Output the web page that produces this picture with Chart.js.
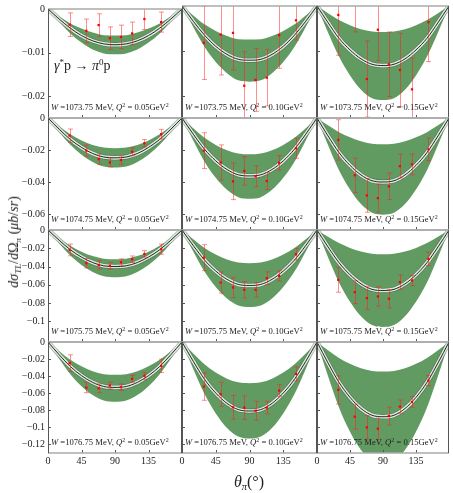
<!DOCTYPE html>
<html><head><meta charset="utf-8">
<script src="https://cdn.jsdelivr.net/npm/chart.js@4/dist/chart.umd.min.js"></script>
<style>
html,body{margin:0;padding:0;background:#fff;}
#wrap{position:relative;width:453px;height:493px;overflow:hidden;font-family:"Liberation Serif",serif;color:#222;}
#wrap canvas{position:absolute;left:0;top:0;}
.lab{position:absolute;white-space:nowrap;font-size:8.6px;line-height:11px;color:#222;}
.lab sup{font-size:6px;position:relative;top:-3px;vertical-align:baseline;}
#react{position:absolute;left:54px;top:56px;font-size:14px;line-height:20px;white-space:nowrap;}
#react sup{font-size:9px;position:relative;top:-5px;vertical-align:baseline;}
#ytitle{position:absolute;left:14px;top:242px;transform:translate(-50%,-50%) rotate(-90deg);font-size:14px;white-space:nowrap;}
#xtitle{position:absolute;left:249px;top:482px;transform:translate(-50%,-50%);font-size:16px;white-space:nowrap;}
sub{font-size:0.65em;vertical-align:baseline;position:relative;top:0.3em;}
</style></head><body><div id="wrap"></div>
<script>
// ---------- data ----------
const wLabels = ['1073.75', '1074.75', '1075.75', '1076.75'];
const q2Labels = ['0.05', '0.10', '0.15'];
const thetaGrid = [0, 15, 30, 45, 60, 75, 90, 105, 120, 135, 150, 165, 180];
const thetaData = [29, 51.5, 68, 83, 98, 113, 129.5, 152];
const xTickValues = [0, 45, 90, 135];
const yMins = [-0.025, -0.07, -0.1225, -0.13];
const yTicksRow1 = [0, -0.01, -0.02];
const yTicksRow2 = [0, -0.02, -0.04, -0.06];
const yTicksRow3 = [0, -0.02, -0.04, -0.06, -0.08, -0.1];
const yTicksRow4 = [0, -0.02, -0.04, -0.06, -0.08, -0.1, -0.12];

// model curves (one row per W, one inner array per Q^2)
const center_W1073 = [
 [0,-0.0023,-0.0044,-0.0061,-0.0073,-0.0080,-0.0082,-0.0080,-0.0073,-0.0061,-0.0044,-0.0023,0],
 [0,-0.0034,-0.0065,-0.0090,-0.0108,-0.0119,-0.0121,-0.0119,-0.0108,-0.0090,-0.0065,-0.0034,0],
 [0,-0.0037,-0.0072,-0.0098,-0.0118,-0.0130,-0.0133,-0.0130,-0.0118,-0.0098,-0.0072,-0.0037,0]];
const upper_W1073 = [
 [0,-0.0017,-0.0033,-0.0045,-0.0054,-0.0060,-0.0061,-0.0060,-0.0054,-0.0045,-0.0033,-0.0017,0],
 [0,-0.0021,-0.0041,-0.0056,-0.0067,-0.0074,-0.0075,-0.0074,-0.0067,-0.0056,-0.0041,-0.0021,0],
 [0,-0.0016,-0.0031,-0.0043,-0.0052,-0.0057,-0.0058,-0.0057,-0.0052,-0.0043,-0.0031,-0.0016,0]];
const lower_W1073 = [
 [0,-0.0029,-0.0056,-0.0077,-0.0093,-0.0102,-0.0104,-0.0102,-0.0093,-0.0077,-0.0056,-0.0029,0],
 [0,-0.0047,-0.0091,-0.0125,-0.0150,-0.0166,-0.0169,-0.0166,-0.0150,-0.0125,-0.0091,-0.0047,0],
 [0,-0.0059,-0.0113,-0.0155,-0.0187,-0.0206,-0.0210,-0.0206,-0.0187,-0.0155,-0.0113,-0.0059,0]];

const center_W1074 = [
 [0,-0.0070,-0.0134,-0.0184,-0.0222,-0.0244,-0.0249,-0.0244,-0.0222,-0.0184,-0.0134,-0.0070,0],
 [0,-0.0101,-0.0195,-0.0268,-0.0322,-0.0355,-0.0362,-0.0355,-0.0322,-0.0268,-0.0195,-0.0101,0],
 [0,-0.0112,-0.0216,-0.0296,-0.0356,-0.0392,-0.0400,-0.0392,-0.0356,-0.0296,-0.0216,-0.0112,0]];
const upper_W1074 = [
 [0,-0.0053,-0.0102,-0.0140,-0.0168,-0.0185,-0.0189,-0.0185,-0.0168,-0.0140,-0.0102,-0.0053,0],
 [0,-0.0064,-0.0123,-0.0168,-0.0202,-0.0222,-0.0227,-0.0222,-0.0202,-0.0168,-0.0123,-0.0064,0],
 [0,-0.0046,-0.0089,-0.0121,-0.0146,-0.0161,-0.0164,-0.0161,-0.0146,-0.0121,-0.0089,-0.0046,0]];
const lower_W1074 = [
 [0,-0.0087,-0.0167,-0.0229,-0.0275,-0.0303,-0.0309,-0.0303,-0.0275,-0.0229,-0.0167,-0.0087,0],
 [0,-0.0141,-0.0273,-0.0374,-0.0449,-0.0495,-0.0505,-0.0495,-0.0449,-0.0374,-0.0273,-0.0141,0],
 [0,-0.0169,-0.0326,-0.0447,-0.0538,-0.0592,-0.0604,-0.0592,-0.0538,-0.0447,-0.0326,-0.0169,0]];

const center_W1075 = [
 [0,-0.0112,-0.0216,-0.0296,-0.0356,-0.0392,-0.0400,-0.0392,-0.0356,-0.0296,-0.0216,-0.0112,0],
 [0,-0.0170,-0.0328,-0.0449,-0.0540,-0.0595,-0.0607,-0.0595,-0.0540,-0.0449,-0.0328,-0.0170,0],
 [0,-0.0185,-0.0357,-0.0490,-0.0589,-0.0649,-0.0662,-0.0649,-0.0589,-0.0490,-0.0357,-0.0185,0]];
const upper_W1075 = [
 [0,-0.0090,-0.0173,-0.0237,-0.0285,-0.0314,-0.0320,-0.0314,-0.0285,-0.0237,-0.0173,-0.0090,0],
 [0,-0.0102,-0.0196,-0.0269,-0.0323,-0.0356,-0.0363,-0.0356,-0.0323,-0.0269,-0.0196,-0.0102,0],
 [0,-0.0074,-0.0143,-0.0196,-0.0236,-0.0260,-0.0265,-0.0260,-0.0236,-0.0196,-0.0143,-0.0074,0]];
const lower_W1075 = [
 [0,-0.0144,-0.0279,-0.0382,-0.0459,-0.0506,-0.0516,-0.0506,-0.0459,-0.0382,-0.0279,-0.0144,0],
 [0,-0.0236,-0.0455,-0.0624,-0.0750,-0.0826,-0.0843,-0.0826,-0.0750,-0.0624,-0.0455,-0.0236,0],
 [0,-0.0297,-0.0573,-0.0785,-0.0944,-0.1040,-0.1061,-0.1040,-0.0944,-0.0785,-0.0573,-0.0297,0]];

const center_W1076 = [
 [0,-0.0149,-0.0287,-0.0394,-0.0473,-0.0521,-0.0532,-0.0521,-0.0473,-0.0394,-0.0287,-0.0149,0],
 [0,-0.0226,-0.0436,-0.0598,-0.0719,-0.0792,-0.0808,-0.0792,-0.0719,-0.0598,-0.0436,-0.0226,0],
 [0,-0.0245,-0.0473,-0.0648,-0.0779,-0.0858,-0.0875,-0.0858,-0.0779,-0.0648,-0.0473,-0.0245,0]];
const upper_W1076 = [
 [0,-0.0108,-0.0208,-0.0285,-0.0343,-0.0377,-0.0385,-0.0377,-0.0343,-0.0285,-0.0208,-0.0108,0],
 [0,-0.0135,-0.0260,-0.0357,-0.0429,-0.0472,-0.0482,-0.0472,-0.0429,-0.0357,-0.0260,-0.0135,0],
 [0,-0.0097,-0.0187,-0.0256,-0.0308,-0.0339,-0.0346,-0.0339,-0.0308,-0.0256,-0.0187,-0.0097,0]];
const lower_W1076 = [
 [0,-0.0196,-0.0377,-0.0517,-0.0622,-0.0685,-0.0699,-0.0685,-0.0622,-0.0517,-0.0377,-0.0196,0],
 [0,-0.0316,-0.0610,-0.0836,-0.1006,-0.1107,-0.1130,-0.1107,-0.1006,-0.0836,-0.0610,-0.0316,0],
 [0,-0.0398,-0.0767,-0.1051,-0.1264,-0.1392,-0.1420,-0.1392,-0.1264,-0.1051,-0.0767,-0.0398,0]];

// measured points and errors
const data_W1073 = [
 [-0.0036,-0.0050,-0.0037,-0.0067,-0.0064,-0.0056,-0.0023,-0.0030],
 [-0.0082,-0.0064,-0.0060,-0.0178,-0.0165,-0.0160,-0.0065,-0.0032],
 [-0.0020,0.0005,-0.0163,-0.0053,-0.0130,-0.0143,-0.0186,-0.0036]];
const err_W1073 = [
 [0.0027,0.0027,0.0026,0.0026,0.0027,0.0026,0.0024,0.0023],
 [0.0082,0.0090,0.0083,0.0076,0.0070,0.0063,0.0074,0.0044],
 [0.0090,0.0063,0.0085,0.0069,0.0072,0.0082,0.0070,0.0088]];
const data_W1074 = [
 [-0.0110,-0.0204,-0.0257,-0.0278,-0.0263,-0.0211,-0.0158,-0.0101],
 [-0.0204,-0.0278,-0.0396,-0.0331,-0.0364,-0.0394,-0.0280,-0.0189],
 [-0.0137,-0.0358,-0.0484,-0.0501,-0.0427,-0.0301,-0.0290,-0.0196]];
const err_W1074 = [
 [0.0041,0.0035,0.0032,0.0028,0.0026,0.0025,0.0023,0.0030],
 [0.0112,0.0110,0.0114,0.0089,0.0065,0.0053,0.0045,0.0063],
 [0.0126,0.0107,0.0105,0.0087,0.0083,0.0074,0.0065,0.0071]];
const data_W1075 = [
 [-0.0218,-0.0363,-0.0382,-0.0393,-0.0353,-0.0320,-0.0262,-0.0210],
 [-0.0302,-0.0575,-0.0629,-0.0654,-0.0654,-0.0527,-0.0502,-0.0265],
 [-0.0545,-0.0680,-0.0745,-0.0727,-0.0752,-0.0570,-0.0553,-0.0316]];
const err_W1075 = [
 [0.0064,0.0051,0.0047,0.0035,0.0038,0.0036,0.0036,0.0055],
 [0.0142,0.0115,0.0111,0.0091,0.0078,0.0069,0.0055,0.0064],
 [0.0136,0.0125,0.0124,0.0105,0.0100,0.0078,0.0055,0.0073]];
const data_W1076 = [
 [-0.0248,-0.0534,-0.0542,-0.0510,-0.0530,-0.0432,-0.0396,-0.0279],
 [-0.0522,-0.0612,-0.0765,-0.0769,-0.0805,-0.0769,-0.0569,-0.0373],
 [-0.0561,-0.0875,-0.1000,-0.1016,-0.0867,-0.0757,-0.0702,-0.0452]];
const err_W1076 = [
 [0.0098,0.0059,0.0051,0.0039,0.0039,0.0041,0.0041,0.0078],
 [0.0161,0.0143,0.0139,0.0139,0.0110,0.0073,0.0069,0.0082],
 [0.0165,0.0147,0.0137,0.0124,0.0104,0.0078,0.0063,0.0059]];

// ---------- assembly ----------
const centers = [center_W1073, center_W1074, center_W1075, center_W1076];
const uppers = [upper_W1073, upper_W1074, upper_W1075, upper_W1076];
const lowers = [lower_W1073, lower_W1074, lower_W1075, lower_W1076];
const datas = [data_W1073, data_W1074, data_W1075, data_W1076];
const errs = [err_W1073, err_W1074, err_W1075, err_W1076];
const yTickValues = [yTicksRow1, yTicksRow2, yTicksRow3, yTicksRow4];

const W = 453, H = 493;
const colLeft = [48, 182, 317], colRight = [182, 317, 452];
const rowTop = [6, 118, 230, 342], rowBottom = [118, 230, 342, 453];
const GREEN = 'rgb(98,155,98)';
const FONT = {family: "'Liberation Serif', serif", size: 10};

function xy(xs, ys) { return xs.map((x, i) => ({x: x, y: ys[i]})); }
function fmt(v) { return v === 0 ? '0' : (v < 0 ? '\u2212' : '') + String(Math.abs(v)); }

const panelPlugin = {
  id: 'panel',
  beforeDatasetDraw(chart, args) {
    if (args.index !== 5) return;
    const ds = chart.data.datasets[5];
    const xs = chart.scales.x, ys = chart.scales.y, a = chart.chartArea, ctx = chart.ctx;
    ctx.save();
    ctx.beginPath(); ctx.rect(a.left, a.top, a.right - a.left, a.bottom - a.top); ctx.clip();
    ctx.strokeStyle = 'rgba(255,30,30,0.5)'; ctx.lineWidth = 1;
    ds.data.forEach((p, i) => {
      const x = Math.round(xs.getPixelForValue(p.x)) + 0.5;
      const y1 = ys.getPixelForValue(p.y + ds.errors[i]);
      const y2 = ys.getPixelForValue(p.y - ds.errors[i]);
      ctx.beginPath();
      ctx.moveTo(x, y1); ctx.lineTo(x, y2);
      ctx.moveTo(x - 2.5, y1); ctx.lineTo(x + 2.5, y1);
      ctx.moveTo(x - 2.5, y2); ctx.lineTo(x + 2.5, y2);
      ctx.stroke();
    });
    ctx.restore();
  },
  afterDraw(chart, args, opts) {
    const a = chart.chartArea, ctx = chart.ctx, xs = chart.scales.x, ys = chart.scales.y;
    ctx.save();
    ctx.strokeStyle = '#555'; ctx.lineWidth = 1;
    ctx.beginPath();
    yTickValues[opts.row].forEach(v => {
      const y = Math.round(ys.getPixelForValue(v)) + 0.5;
      ctx.moveTo(a.left, y); ctx.lineTo(a.left + 3, y);
    });
    xTickValues.forEach(v => {
      const x = Math.round(xs.getPixelForValue(v)) + 0.5;
      ctx.moveTo(x, a.bottom); ctx.lineTo(x, a.bottom - 3);
    });
    ctx.stroke();
    ctx.strokeStyle = '#aaa'; ctx.lineWidth = 1.5;
    ctx.beginPath();
    ctx.moveTo(a.left, a.top); ctx.lineTo(a.right, a.top);
    ctx.moveTo(a.left, a.bottom); ctx.lineTo(a.right, a.bottom);
    ctx.stroke();
    ctx.strokeStyle = '#555'; ctx.lineWidth = 1;
    ctx.beginPath();
    ctx.moveTo(a.left + 0.5, a.top); ctx.lineTo(a.left + 0.5, a.bottom);
    ctx.moveTo(a.right - 0.5, a.top); ctx.lineTo(a.right - 0.5, a.bottom);
    ctx.stroke();
    ctx.restore();
  }
};

const wrap = document.getElementById('wrap');

function makePanel(r, c) {
  const cv = document.createElement('canvas');
  cv.width = W; cv.height = H;
  cv.style.width = W + 'px'; cv.style.height = H + 'px';
  wrap.appendChild(cv);
  const showY = c === 0, showX = r === 3;
  const line = {pointRadius: 0, cubicInterpolationMode: 'monotone', fill: false};
  new Chart(cv, {
    type: 'line',
    data: {datasets: [
      Object.assign({data: xy(thetaGrid, uppers[r][c]), backgroundColor: GREEN, borderColor: 'rgba(0,0,0,0)', borderWidth: 1, order: 10}, line, {fill: {target: 1}}),
      Object.assign({data: xy(thetaGrid, lowers[r][c]), borderColor: 'rgba(0,0,0,0)', borderWidth: 1, order: 9}, line),
      Object.assign({data: xy(thetaGrid, centers[r][c]), borderColor: 'rgba(70,80,70,0.45)', borderWidth: 5, order: 3}, line),
      Object.assign({data: xy(thetaGrid, centers[r][c]), borderColor: 'rgb(220,234,220)', borderWidth: 3.6, order: 2}, line),
      Object.assign({data: xy(thetaGrid, centers[r][c]), borderColor: '#111', borderWidth: 0.9, order: 1}, line),
      {type: 'scatter', data: xy(thetaData, datas[r][c]), errors: errs[r][c], pointStyle: 'rect', pointRadius: 1.6,
       backgroundColor: '#ff0000', borderWidth: 0, clip: 0, order: 0, showLine: false}
    ]},
    options: {
      responsive: false, animation: false, devicePixelRatio: 1, events: [],
      layout: {padding: {
        left: showY ? colLeft[c] - 40 : colLeft[c],
        right: W - colRight[c],
        top: rowTop[r],
        bottom: showX ? H - rowBottom[r] - 20 : H - rowBottom[r]
      }},
      plugins: {legend: {display: false}, tooltip: {enabled: false}, panel: {row: r, col: c}},
      scales: {
        x: {type: 'linear', min: 0, max: 180, display: showX,
            grid: {display: false, drawTicks: false}, border: {display: false},
            ticks: {font: FONT, color: '#222', padding: 2, maxRotation: 0, autoSkip: false, callback: v => fmt(v)},
            afterBuildTicks: s => { s.ticks = xTickValues.map(v => ({value: v})); },
            afterFit: s => { if (showX) s.height = 20; }},
        y: {type: 'linear', min: yMins[r], max: 0, display: showY,
            grid: {display: false, drawTicks: false}, border: {display: false},
            ticks: {font: FONT, color: '#222', padding: 3, autoSkip: false, callback: v => fmt(v)},
            afterBuildTicks: s => { s.ticks = yTickValues[r].map(v => ({value: v})); },
            afterFit: s => { if (showY) s.width = 40; }}
      }
    },
    plugins: [panelPlugin]
  });
}

for (let r = 0; r < 4; r++) for (let c = 0; c < 3; c++) makePanel(r, c);

for (let r = 0; r < 4; r++) for (let c = 0; c < 3; c++) {
  const d = document.createElement('div');
  d.className = 'lab';
  d.style.left = (colLeft[c] + 3) + 'px';
  d.style.top = (rowBottom[r] - 16) + 'px';
  d.innerHTML = '<i>W</i> =' + wLabels[r] + ' MeV, <i>Q</i><sup>2</sup> = ' + q2Labels[c] + 'GeV<sup>2</sup>';
  wrap.appendChild(d);
}
const react = document.createElement('div');
react.id = 'react';
react.innerHTML = '<i>γ</i><sup>*</sup>p → <i>π</i><sup>0</sup>p';
wrap.appendChild(react);
const yt = document.createElement('div');
yt.id = 'ytitle';
yt.innerHTML = '<i>dσ</i><sub><i>TL</i></sub>/<i>d</i>Ω<sub><i>π</i></sub> (<i>μb</i>/<i>sr</i>)';
wrap.appendChild(yt);
const xt = document.createElement('div');
xt.id = 'xtitle';
xt.innerHTML = '<i>θ</i><sub><i>π</i></sub>(°)';
wrap.appendChild(xt);
</script></body></html>
